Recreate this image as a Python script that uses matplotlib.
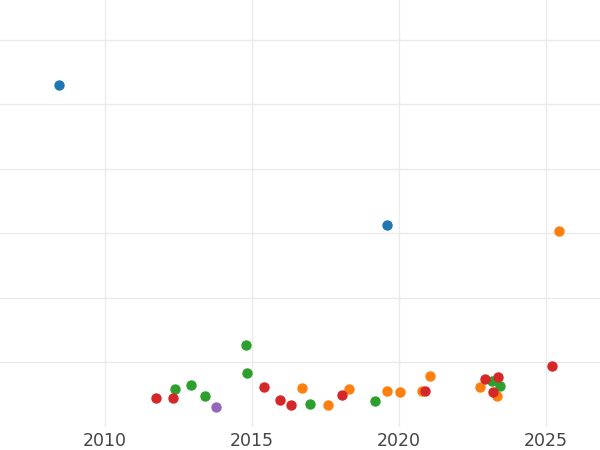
import matplotlib.pyplot as plt

# data (x = year, y = value)
blue_x = [2008.42, 2019.61]
blue_y = [53.0, 31.3]
orange_x = [2025.47, 2021.06, 2022.78, 2016.69, 2018.31, 2020.78, 2019.61, 2020.04, 2023.34, 2017.59]
orange_y = [30.4, 7.8, 6.1, 6.0, 5.9, 5.6, 5.5, 5.4, 4.7, 3.3]
green_x = [2014.79, 2014.82, 2023.19, 2012.92, 2023.43, 2012.39, 2013.42, 2019.20, 2016.98]
green_y = [12.6, 8.3, 7.1, 6.4, 6.3, 5.9, 4.8, 4.0, 3.5]
red_x = [2025.23, 2023.38, 2022.94, 2015.42, 2020.89, 2023.22, 2018.08, 2011.73, 2012.33, 2015.96, 2016.32]
red_y = [9.4, 7.7, 7.4, 6.2, 5.6, 5.3, 4.9, 4.5, 4.4, 4.1, 3.3]
purple_x = [2013.77]
purple_y = [3.1]

fig = plt.figure(figsize=(6, 4.5), dpi=100)
ax = fig.add_axes([0, 0.052, 1, 0.948])

ax.scatter(blue_x, blue_y, color='#1f77b4', s=42, zorder=3)
ax.scatter(orange_x, orange_y, color='#ff7f0e', s=42, zorder=3)
ax.scatter(green_x, green_y, color='#2ca02c', s=42, zorder=3)
ax.scatter(red_x, red_y, color='#d62728', s=42, zorder=3)
ax.scatter(purple_x, purple_y, color='#9467bd', s=42, zorder=3)

ax.set_xlim(2006.425, 2026.85)
ax.set_ylim(0, 66.2)
ax.set_xticks([2010, 2015, 2020, 2025])
ax.set_yticks([10, 20, 30, 40, 50, 60])
ax.set_yticklabels([])
ax.tick_params(axis='both', length=0, labelsize=12.5, labelcolor='#444444', pad=4)
ax.grid(True, color='#ebebeb', linewidth=1)
ax.set_axisbelow(True)
for s in ax.spines.values():
    s.set_visible(False)

plt.savefig('out.png', dpi=100)
